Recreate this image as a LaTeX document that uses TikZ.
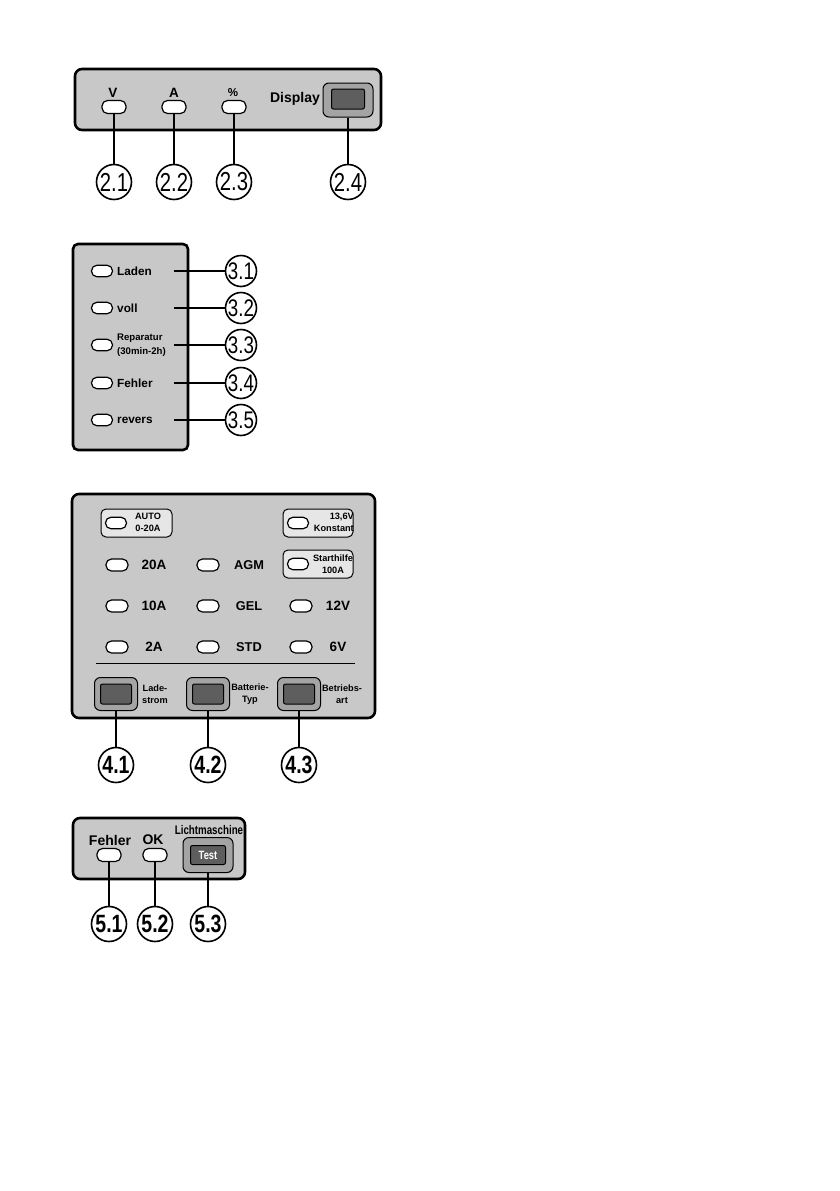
\documentclass[tikz,border=0pt]{standalone}
\usepackage{fontspec}
\setmainfont{Liberation Sans}
\newfontfamily\narrowfont[FakeStretch=0.78]{Liberation Sans}
\usetikzlibrary{positioning}
\definecolor{panelgray}{HTML}{C8C8C8}
\definecolor{boxgray}{HTML}{E6E6E6}
\definecolor{btngray}{HTML}{A4A4A4}
\definecolor{btndark}{HTML}{5E5E5E}

\begin{document}
\begin{tikzpicture}[
  x=1pt, y=-1pt,
  panel/.style={draw, line width=2.6pt, rounded corners=7pt, fill=panelgray},
  led/.style={draw, line width=1.2pt, fill=white, rounded corners=5.5pt,
              minimum width=24pt, minimum height=13pt, inner sep=0pt},
  sled/.style={led, minimum width=21pt, minimum height=11.5pt},
  selbox/.style={draw, line width=1pt, fill=boxgray, rounded corners=5pt,
                 minimum width=71pt, minimum height=28pt, inner sep=0pt},
  btnout/.style={draw, line width=1pt, fill=btngray, rounded corners=6pt,
                 minimum width=43pt, minimum height=33pt, inner sep=0pt},
  btninn/.style={draw, line width=1pt, fill=btndark, rounded corners=2pt,
                 minimum width=31pt, minimum height=20pt, inner sep=0pt},
  callout/.style={draw, circle, line width=1.6pt, fill=white, inner sep=0pt,
                  minimum size=35pt, font=\narrowfont\fontsize{26}{26}\selectfont},
  bcallout/.style={callout, font=\narrowfont\bfseries\fontsize{25}{25}\selectfont},
  wire/.style={line width=1.8pt},
  lbl/.style={font=\bfseries\fontsize{13.5}{15}\selectfont, inner sep=0pt},
  tiny/.style={font=\bfseries\fontsize{9.2}{11.5}\selectfont, inner sep=0pt, align=center},
]
\useasboundingbox (0,0) rectangle (839,1191);

% Panel 2: V / A / % and display
\draw[panel] (75,69) rectangle (381,130);
\node[lbl] at (113,93) {V};
\node[lbl] at (174,93) {A};
\node[lbl, font=\bfseries\fontsize{11.5}{12}\selectfont] at (233,93) {\%};
\node[lbl, font=\bfseries\fontsize{14}{15}\selectfont] at (295,99) {Display};
\node[led] (v) at (114,107) {};
\node[led] (a) at (174,107) {};
\node[led] (pct) at (234,107) {};
\node[btnout, minimum width=50pt, minimum height=34pt] (disp) at (348,100) {};
\node[btninn, minimum width=33pt] at (348,99) {};

\node[callout] (c21) at (114,182) {2.1};
\node[callout] (c22) at (174,182) {2.2};
\node[callout] (c23) at (234,182) {2.3};
\node[callout] (c24) at (348,182) {2.4};
\draw[wire] (v) -- (c21);
\draw[wire] (a) -- (c22);
\draw[wire] (pct) -- (c23);
\draw[wire] (disp) -- (c24);

% Panel 3: status lamps
\draw[panel, rounded corners=5pt] (73,244) rectangle (188,450);
\foreach \n/\y/\t in {1/271/Laden, 2/308/voll, 4/383/Fehler, 5/420/revers} {
  \node[sled] at (102,\y) {};
  \node[lbl, font=\bfseries\fontsize{11.8}{13}\selectfont, anchor=west] at (117,\y) {\t};
}
\node[sled] at (102,345) {};
\node[tiny, font=\bfseries\fontsize{9.6}{13.5}\selectfont, align=left, anchor=west]
  at (117,345) {Reparatur\\(30min-2h)};
\foreach \n/\y in {1/271, 2/308, 3/345, 4/383, 5/420} {
  \coordinate (e3\n) at (174,\y);
  \node[callout, minimum size=30pt, font=\narrowfont\fontsize{24}{24}\selectfont]
    (c3\n) at (241,\y) {3.\n};
  \draw[wire] (e3\n) -- (c3\n);
}

% Panel 4: charge current / battery type / mode
\draw[panel] (72,494) rectangle (375,718);
\node[selbox] at (136.5,523) {};
\node[sled] at (116,523) {};
\node[tiny] at (148,522.5) {AUTO\\0-20A};
\node[selbox, minimum width=70pt] at (318,523) {};
\node[sled] at (298,523) {};
\node[tiny, align=right, anchor=east] at (354,522.5) {13,6V\\Konstant};
\node[selbox, minimum width=70pt] at (318,564) {};
\node[sled] at (298,564) {};
\node[tiny] at (333,564) {Starthilfe\\100A};

\foreach \y/\ta/\tb in {565/20A/AGM, 606/10A/GEL, 647/2A/STD} {
  \node[led, minimum width=22pt, minimum height=12pt] at (117,\y) {};
  \node[lbl] at (154,\y) {\ta};
  \node[led, minimum width=22pt, minimum height=12pt] at (208,\y) {};
  \node[lbl, font=\bfseries\fontsize{12.8}{14}\selectfont] at (249,\y) {\tb};
}
\foreach \y/\t in {606/12V, 647/6V} {
  \node[led, minimum width=22pt, minimum height=12pt] at (301,\y) {};
  \node[lbl] at (338,\y) {\t};
}
\draw[line width=0.9pt] (96,663) -- (355,663);

\node[btnout] (b41) at (116,694) {};
\node[btninn] at (116,694) {};
\node[tiny] at (155,694) {Lade-\\strom};
\node[btnout] (b42) at (208,694) {};
\node[btninn] at (208,694) {};
\node[tiny] at (250,694) {Batterie-\\Typ};
\node[btnout] (b43) at (299,694) {};
\node[btninn] at (299,694) {};
\node[tiny] at (342,694) {Betriebs-\\art};

\node[bcallout] (c41) at (116,765) {4.1};
\node[bcallout] (c42) at (208,765) {4.2};
\node[bcallout] (c43) at (299,765) {4.3};
\draw[wire] (b41) -- (c41);
\draw[wire] (b42) -- (c42);
\draw[wire] (b43) -- (c43);

% Panel 5: alternator test
\draw[panel] (73,818) rectangle (245,879);
\node[lbl, font=\bfseries\fontsize{14}{15}\selectfont] at (110,840) {Fehler};
\node[lbl, font=\bfseries\fontsize{14}{15}\selectfont] at (153,840) {OK};
\node[lbl, font=\narrowfont\bfseries\fontsize{12.5}{13}\selectfont] at (209,830) {Lichtmaschine};
\node[led] (f) at (109,855) {};
\node[led] (ok) at (155,855) {};
\node[btnout, minimum width=50pt, minimum height=35pt] (test) at (208,855) {};
\node[btninn, minimum width=35pt, minimum height=19pt, text=white,
      font=\narrowfont\bfseries\fontsize{12}{12}\selectfont] at (208,855) {Test};

\node[bcallout] (c51) at (109,924) {5.1};
\node[bcallout] (c52) at (155,924) {5.2};
\node[bcallout] (c53) at (208,924) {5.3};
\draw[wire] (f) -- (c51);
\draw[wire] (ok) -- (c52);
\draw[wire] (test) -- (c53);

\end{tikzpicture}
\end{document}
